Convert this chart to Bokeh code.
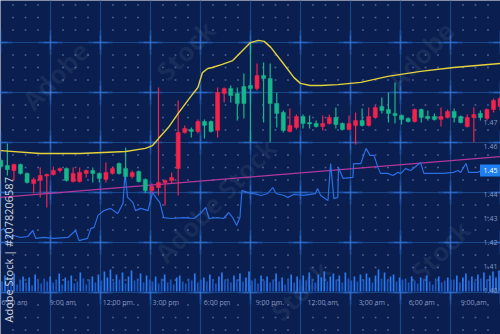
import numpy as np
from bokeh.plotting import figure
from bokeh.models import Range1d, FixedTicker, Grid
from bokeh.core.properties import value
from bokeh.embed import file_html
from bokeh.resources import INLINE

# ---------------- data ----------------
opens = [1.4517, 1.4504, 1.4525, 1.4488, 1.4450, 1.4463, 1.4479, 1.4483, 1.4500, 1.4508,
         1.4458, 1.4488, 1.4492, 1.4500, 1.4488, 1.4467, 1.4492, 1.4508, 1.4488, 1.4475,
         1.4492, 1.4454, 1.4417, 1.4433, 1.4450, 1.4458, 1.4471, 1.4658, 1.4675, 1.4663,
         1.4704, 1.4688, 1.4663, 1.4825, 1.4842, 1.4813, 1.4779, 1.4779, 1.4842, 1.4896,
         1.4883, 1.4779, 1.4738, 1.4667, 1.4688, 1.4725, 1.4696, 1.4694, 1.4683, 1.4696,
         1.4721, 1.4692, 1.4671, 1.4696, 1.4708, 1.4688, 1.4725, 1.4762, 1.4750, 1.4738,
         1.4729, 1.4713, 1.4704, 1.4754, 1.4721, 1.4717, 1.4713, 1.4725, 1.4746, 1.4721,
         1.4700, 1.4721, 1.4733, 1.4721, 1.4754, 1.4792, 1.4800]
highs = [1.4550, 1.4613, 1.4529, 1.4529, 1.4492, 1.4471, 1.4513, 1.4488, 1.4517, 1.4513,
         1.4513, 1.4513, 1.4513, 1.4504, 1.4513, 1.4492, 1.4533, 1.4517, 1.4533, 1.4596,
         1.4500, 1.4500, 1.4467, 1.4446, 1.4846, 1.4463, 1.4492, 1.4792, 1.4688, 1.4679,
         1.4713, 1.4713, 1.4708, 1.4846, 1.4846, 1.4854, 1.4846, 1.4904, 1.5029, 1.4946,
         1.4950, 1.4946, 1.4825, 1.4750, 1.4758, 1.4733, 1.4733, 1.4729, 1.4708, 1.4729,
         1.4733, 1.4762, 1.4700, 1.4729, 1.4742, 1.4758, 1.4762, 1.4771, 1.4804, 1.4825,
         1.4867, 1.4733, 1.4721, 1.4758, 1.4758, 1.4750, 1.4738, 1.4762, 1.4754, 1.4758,
         1.4729, 1.4733, 1.4762, 1.4750, 1.4758, 1.4800, 1.4808]
lows = [1.4508, 1.4479, 1.4458, 1.4483, 1.4446, 1.4404, 1.4388, 1.4346, 1.4479, 1.4492,
        1.4454, 1.4450, 1.4450, 1.4471, 1.4450, 1.4450, 1.4450, 1.4483, 1.4483, 1.4467,
        1.4467, 1.4450, 1.4408, 1.4404, 1.4396, 1.4354, 1.4446, 1.4396, 1.4654, 1.4638,
        1.4654, 1.4633, 1.4658, 1.4638, 1.4783, 1.4783, 1.4708, 1.4717, 1.4617, 1.4833,
        1.4700, 1.4617, 1.4679, 1.4658, 1.4658, 1.4671, 1.4675, 1.4675, 1.4679, 1.4667,
        1.4692, 1.4675, 1.4667, 1.4667, 1.4608, 1.4683, 1.4683, 1.4717, 1.4738, 1.4700,
        1.4696, 1.4692, 1.4700, 1.4700, 1.4700, 1.4708, 1.4708, 1.4683, 1.4717, 1.4700,
        1.4696, 1.4679, 1.4617, 1.4708, 1.4708, 1.4742, 1.4750]
closes = [1.4542, 1.4521, 1.4500, 1.4525, 1.4488, 1.4446, 1.4458, 1.4477, 1.4483, 1.4500,
          1.4508, 1.4454, 1.4454, 1.4488, 1.4500, 1.4488, 1.4463, 1.4488, 1.4529, 1.4508,
          1.4475, 1.4496, 1.4463, 1.4417, 1.4429, 1.4450, 1.4458, 1.4508, 1.4658, 1.4671,
          1.4663, 1.4704, 1.4704, 1.4667, 1.4821, 1.4842, 1.4821, 1.4850, 1.4854, 1.4842,
          1.4896, 1.4883, 1.4779, 1.4742, 1.4663, 1.4679, 1.4725, 1.4700, 1.4696, 1.4683,
          1.4696, 1.4721, 1.4696, 1.4671, 1.4688, 1.4708, 1.4688, 1.4721, 1.4767, 1.4754,
          1.4738, 1.4729, 1.4717, 1.4704, 1.4754, 1.4725, 1.4725, 1.4713, 1.4721, 1.4746,
          1.4725, 1.4683, 1.4721, 1.4738, 1.4717, 1.4754, 1.4767]

# moving average (yellow), sampled along the time axis
ma_t = [0.0, 6.0, 12.1, 19.0, 22.0, 23.1, 24.0, 25.5, 27.0, 28.9, 30.0, 30.7, 31.5, 32.2,
        33.7, 35.3, 36.8, 38.0, 39.2, 40.1, 41.1, 43.0, 44.6, 45.6, 47.1, 48.7, 51.3,
        54.8, 58.9, 63.9, 68.9, 76.1]
ma_v = [1.4583, 1.4571, 1.4571, 1.4579, 1.4592, 1.4604, 1.4633, 1.4679, 1.4738, 1.4808,
        1.4846, 1.4908, 1.4925, 1.4929, 1.4942, 1.4958, 1.5000, 1.5033, 1.5042, 1.5038,
        1.5013, 1.4946, 1.4888, 1.4863, 1.4854, 1.4854, 1.4858, 1.4867, 1.4892, 1.4913,
        1.4929, 1.4946]

# trend line (purple)
trend_t = [-0.05, 76.06]
trend_v = [1.4388, 1.4558]

# second price series (blue)
blue_t = [0.0, 0.46, 1.07, 1.98, 3.04, 4.11, 4.87, 5.33, 6.54, 8.07, 10.2, 11.4, 11.9, 13.2,
          13.7, 14.2, 14.8, 15.7, 16.7, 17.8, 18.6, 18.9, 19.3, 20.1, 20.5, 21.3, 22.4,
          23.1, 23.6, 24.2, 24.8, 25.9, 27.9, 29.4, 30.4, 31.2, 31.7, 33.0, 33.9, 34.7,
          35.3, 35.9, 36.4, 36.7, 37.6, 38.4, 39.6, 40.6, 41.4, 41.9, 43.1, 43.7, 44.6,
          46.1, 47.9, 48.2, 48.7, 49.8, 50.2, 50.7, 51.3, 51.4, 52.1, 53.6, 53.7, 54.8,
          55.6, 56.2, 56.8, 57.4, 57.8, 58.9, 59.7, 60.4, 60.9, 61.6, 62.4, 63.9, 64.4,
          65.9, 67.4, 68.9, 69.6, 70.0, 70.8, 71.2, 72.6, 73.1, 76.1]
blue_v = [1.4250, 1.4258, 1.4221, 1.4229, 1.4221, 1.4225, 1.4250, 1.4217, 1.4221, 1.4217,
          1.4221, 1.4250, 1.4208, 1.4217, 1.4258, 1.4263, 1.4313, 1.4333, 1.4342, 1.4321,
          1.4363, 1.4488, 1.4388, 1.4367, 1.4333, 1.4342, 1.4333, 1.4408, 1.4388, 1.4367,
          1.4304, 1.4300, 1.4304, 1.4300, 1.4321, 1.4346, 1.4300, 1.4304, 1.4300, 1.4325,
          1.4304, 1.4271, 1.4304, 1.4417, 1.4408, 1.4404, 1.4396, 1.4404, 1.4429, 1.4404,
          1.4396, 1.4388, 1.4400, 1.4396, 1.4404, 1.4425, 1.4396, 1.4375, 1.4529, 1.4383,
          1.4388, 1.4513, 1.4467, 1.4471, 1.4529, 1.4529, 1.4592, 1.4563, 1.4563, 1.4513,
          1.4488, 1.4488, 1.4479, 1.4492, 1.4488, 1.4508, 1.4500, 1.4533, 1.4488, 1.4488,
          1.4488, 1.4492, 1.4500, 1.4492, 1.4529, 1.4492, 1.4492, 1.4500, 1.4500]

volume = [10, 16, 8, 13, 18, 7, 12, 15, 9, 14, 6, 17, 11, 8, 13, 10, 15,
          9, 12, 18, 7, 14, 11, 16, 8, 10, 19, 13, 7, 12, 15, 9, 17, 11,
          20, 14, 22, 10, 17, 12, 19, 8, 15, 21, 11, 13, 18, 9, 16, 12,
          10, 15, 8, 13, 17, 9, 12, 7, 14, 16, 10, 8, 13, 11, 18, 9, 12,
          14, 10, 17, 12, 8, 15, 19, 11, 13, 9, 16, 12, 18, 10, 14, 20, 11,
          13, 8, 16, 11, 15, 9, 12, 18, 10, 14, 7, 13, 17, 9, 15, 12,
          16, 11, 19, 13, 9, 17, 14, 20, 10, 15, 18, 12, 16, 9, 19, 13, 11,
          15, 10, 17, 12, 18, 14, 9, 16, 22, 13, 19, 11, 15, 17, 10, 14, 12,
          13, 9, 15, 11, 8, 14, 12, 16, 10, 7, 13, 15, 9, 11, 14, 12,
          12, 16, 9, 14, 18, 11, 15, 10, 17, 13, 19, 12, 16, 20, 14, 21]

price_ticks = [1.40, 1.41, 1.42, 1.43, 1.44, 1.46, 1.47]
last_price = 1.45
time_pos = [0.1, 7.46, 15.5, 23.1, 30.9, 38.8, 46.7, 54.5, 62.1, 70.0]
time_labels = ["6:00 am", "9:00 am", "12:00 pm.", "3:00 pm", "6:00 pm",
               "9:00 pm.", "12:00 am", "3:00 am", "6:00 am", "9:00 am"]

# ---------------- styling ----------------
BG = "#0a1f50"
RED = "#f2234c"
GREEN = "#18b68c"

W, H = 500, 334
p = figure(width=W, height=H, output_backend="svg", toolbar_location=None,
           x_range=Range1d(0, W), y_range=Range1d(H, 0),
           x_axis_location=None, y_axis_location=None,
           min_border=0, background_fill_color=BG, border_fill_color=BG,
           outline_line_color=None)
p.min_border_left = p.min_border_right = p.min_border_top = p.min_border_bottom = 0
p.grid.visible = False

p.extra_x_ranges = {"t": Range1d(-0.046, 76.06), "vx": Range1d(-0.5, len(volume) - 0.5)}
p.extra_y_ranges = {"price": Range1d(1.381667, 1.520833), "vol": Range1d(-43, 291)}

# background grid (pixel space)
gx = list(range(0, W + 1, 50))
gy = [42 + 50 * k for k in range(6)]
p.add_layout(Grid(dimension=0, ticker=FixedTicker(ticks=gx), grid_line_color="#184686",
                  grid_line_width=1.2))
p.add_layout(Grid(dimension=1, ticker=FixedTicker(ticks=gy), grid_line_color="#184686",
                  grid_line_width=1.2))

# soft glow at intersections
ix, iy = np.meshgrid(gx, gy)
ix, iy = ix.ravel(), iy.ravel()
p.segment(ix - 12, iy, ix + 12, iy, line_color="#2a6bd0", line_alpha=0.22, line_width=3)
p.segment(ix, iy - 12, ix, iy + 12, line_color="#2a6bd0", line_alpha=0.22, line_width=3)
p.segment(ix - 7, iy, ix + 7, iy, line_color="#3a80e6", line_alpha=0.45, line_width=1.3)
p.segment(ix, iy - 7, ix, iy + 7, line_color="#3a80e6", line_alpha=0.45, line_width=1.3)

# dot lattice
dxs = [12.5 * k for k in range(41) if k % 4 != 0]
dys = [42 + 12.5 * k for k in range(-3, 24) if k % 4 != 0]
DX, DY = np.meshgrid(dxs, dys)
p.scatter(DX.ravel(), DY.ravel(), marker="square", size=1.7, fill_color="#6577a6",
          line_color=None, alpha=0.8)

# faint diagonal watermarks
p.text(x=[55, 185, 215, 300, 420, 440], y=[75, 50, 200, 290, 55, 250],
       text=["Adobe", "Stock", "Adobe Stock", "Stock", "Adobe", "Stock"],
       angle=0.8, text_align="center", text_baseline="middle",
       text_font=value("Open Sans"), text_font_style="bold",
       text_font_size="26px", text_color="#ffffff", text_alpha=0.06)

# volume bars
vcol = ["#2a7cf5" if v >= 14 else "#1c58c0" for v in volume]
p.vbar(x=list(range(len(volume))), top=volume, bottom=0, width=0.55, fill_color=vcol,
       line_color=None, x_range_name="vx", y_range_name="vol")

# trend + blue series
p.line(trend_t, trend_v, line_color="#b2389e", line_width=1.4,
       x_range_name="t", y_range_name="price")
p.line(blue_t, blue_v, line_color="#2a6fe4", line_width=1.2,
       x_range_name="t", y_range_name="price")

# candles
idx = list(range(len(opens)))
cols = [GREEN if c >= o else RED for o, c in zip(opens, closes)]
tops = [max(o, c) for o, c in zip(opens, closes)]
bots = [min(o, c) for o, c in zip(opens, closes)]
p.segment(idx, lows, idx, highs, line_color=cols, line_width=1.2,
          x_range_name="t", y_range_name="price")
p.vbar(x=idx, top=tops, bottom=bots, width=0.62, fill_color=cols, line_color=cols,
       line_width=0.5, x_range_name="t", y_range_name="price")

# moving average
p.line(ma_t, ma_v, line_color="#e3d23c", line_width=1.4,
       x_range_name="t", y_range_name="price")

# price labels
p.text(x=[490] * len(price_ticks), y=price_ticks, text=[f"{v:.2f}" for v in price_ticks],
       y_range_name="price", text_align="center", text_baseline="middle",
       text_font=value("Open Sans"), text_font_size="7px", text_color="#8797c0")
p.rect(x=[490], y=[last_price], width=21, height=12, height_units="screen",
       fill_color="#1f7ef0", line_color=None, y_range_name="price")
p.text(x=[490], y=[last_price], text=[f"{last_price:.2f}"], y_range_name="price",
       text_align="center", text_baseline="middle", text_font=value("Open Sans"),
       text_font_size="7px", text_color="#ffffff")

# time labels
p.text(x=time_pos, y=[302] * len(time_pos), text=time_labels, x_range_name="t",
       text_align="left", text_baseline="middle", text_font=value("Open Sans"),
       text_font_size="7px", text_color="#8797c0")

# vertical stock id text
p.text(x=[15], y=[322], text=["Adobe Stock | #2078206587"], angle=np.pi / 2,
       text_align="left", text_baseline="bottom", text_font=value("Open Sans"),
       text_font_size="11px", text_color="#ffffff", text_alpha=0.8)

open("out.html", "w").write(file_html(p, INLINE))
